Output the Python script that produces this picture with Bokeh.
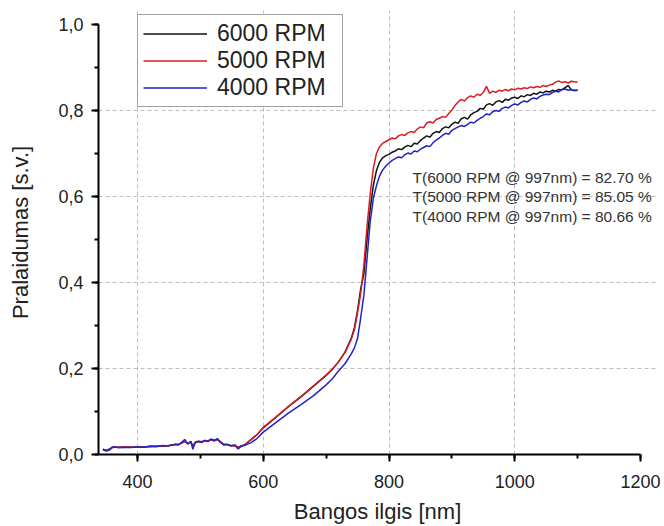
from bokeh.plotting import figure
from bokeh.models import (ColumnDataSource, Range1d, SingleIntervalTicker, FixedTicker,
                          CustomJSTickFormatter, Legend, LegendItem, Label)
from bokeh.embed import file_html
from bokeh.resources import INLINE

# ---------------- data ----------------
series_names = ["6000 RPM", "5000 RPM", "4000 RPM"]

wl_low = [345, 350, 355, 360, 365, 370, 380, 390, 400, 410, 420, 430, 440, 450, 460, 465,
          470, 475, 480, 485, 488, 492, 497, 502, 507, 512, 517, 522, 527, 532, 537, 542,
          548, 555, 560, 565, 570, 575]
wl_mid = [580, 590, 600, 620, 640, 660, 680, 700, 710, 720, 730, 740, 745, 750, 755, 760,
          765, 770, 775, 780, 785, 790, 795, 800]
wl_up = [805, 810, 815, 820, 825, 830, 835, 840, 845, 850,
         855, 860, 865, 870, 875, 880, 885, 890, 895, 900,
         905, 910, 915, 920, 925, 930, 935, 940, 945, 950,
         955, 960, 965, 970, 975, 980, 985, 990, 995, 1000,
         1005, 1010, 1015, 1020, 1025, 1030, 1035, 1040, 1045, 1050,
         1055, 1060, 1065, 1070, 1075, 1080, 1085, 1090, 1095, 1100]

black_low = [.012, .010, .012, .017, .017, .016, .017, .017, .018, .017, .019, .019, .020, .021,
             .023, .023, .027, .031, .026, .029, .018, .028, .030, .029, .032, .031, .035, .032,
             .035, .029, .023, .023, .021, .021, .016, .020, .022, .028]
red_low = [.012, .010, .011, .016, .017, .017, .018, .017, .017, .018, .018, .019, .020, .021,
           .023, .024, .026, .030, .027, .029, .020, .028, .030, .030, .031, .032, .034, .033,
           .035, .030, .024, .023, .021, .020, .017, .020, .022, .028]
blue_low = [.011, .008, .010, .017, .018, .016, .017, .016, .018, .017, .019, .018, .021, .020,
            .024, .022, .028, .035, .024, .031, .012, .029, .031, .028, .033, .030, .036, .032,
            .037, .028, .022, .024, .020, .022, .013, .019, .021, .024]

black_mid = [.034, .046, .062, .086, .111, .134, .159, .184, .198, .216, .238, .270, .295, .335,
             .385, .420, .500, .570, .625, .660, .680, .690, .695, .698]
red_mid = [.034, .046, .063, .087, .112, .135, .160, .185, .199, .216, .237, .268, .290, .330,
           .375, .440, .530, .605, .665, .700, .716, .724, .728, .732]
blue_mid = [.027, .037, .052, .074, .096, .116, .137, .162, .176, .195, .211, .234, .248, .270,
            .318, .370, .455, .540, .595, .625, .648, .662, .671, .678]

black_up = [.703, .706, .711, .709, .715, .719, .716, .724, .722, .730,
            .736, .741, .738, .747, .751, .749, .758, .762, .760, .768,
            .773, .770, .781, .784, .780, .790, .795, .798, .805, .803,
            .813, .816, .812, .820, .823, .819, .826, .824, .829, .831,
            .828, .834, .832, .837, .835, .840, .838, .843, .841, .845,
            .843, .847, .845, .849, .848, .853, .858, .848, .847, .847]
red_up = [.736, .734, .741, .744, .742, .748, .751, .749, .757, .762,
          .760, .771, .774, .771, .779, .782, .786, .784, .793, .801,
          .812, .820, .826, .822, .830, .834, .831, .838, .835, .842,
          .856, .840, .845, .842, .847, .845, .849, .846, .850, .848,
          .852, .850, .853, .851, .855, .853, .856, .854, .858, .856,
          .859, .861, .866, .869, .865, .867, .864, .868, .867, .866]
blue_up = [.684, .688, .692, .690, .697, .701, .699, .706, .704, .710,
           .714, .718, .716, .725, .731, .736, .742, .747, .745, .754,
           .758, .762, .765, .763, .768, .773, .771, .777, .782, .786,
           .792, .790, .797, .800, .798, .805, .808, .806, .812, .815,
           .813, .819, .822, .820, .826, .829, .827, .833, .836, .838,
           .837, .842, .845, .843, .849, .850, .847, .849, .846, .847]

annotations = ["T(6000 RPM @ 997nm) = 82.70 %",
               "T(5000 RPM @ 997nm) = 85.05 %",
               "T(4000 RPM @ 997nm) = 80.66 %"]

x_grid_ticks = [400, 600, 800, 1000]
y_grid_ticks = [0.2, 0.4, 0.6, 0.8]

# ---------------- figure ----------------
FONT = "Liberation Sans"
wavelength = wl_low + wl_mid + wl_up
src = ColumnDataSource(dict(
    x=wavelength,
    black=black_low + black_mid + black_up,
    red=red_low + red_mid + red_up,
    blue=blue_low + blue_mid + blue_up,
))

p = figure(width=664, height=526, output_backend="svg", toolbar_location=None,
           x_range=Range1d(338, 1225.4), y_range=Range1d(0, 1.0326),
           min_border_left=98, min_border_right=8, min_border_top=10, min_border_bottom=72)
p.outline_line_color = None
p.background_fill_color = "white"
p.border_fill_color = "white"

p.xaxis.ticker = SingleIntervalTicker(interval=200, num_minor_ticks=2)
p.yaxis.ticker = SingleIntervalTicker(interval=0.2, num_minor_ticks=2)
p.yaxis.formatter = CustomJSTickFormatter(code="return tick.toFixed(1).replace('.', ',');")
p.xaxis.bounds = (338, 1200)
p.yaxis.bounds = (0, 1.0)

for ax in (p.xaxis[0], p.yaxis[0]):
    ax.axis_line_width = 2
    ax.axis_line_color = "black"
    ax.major_tick_line_width = 2
    ax.minor_tick_line_width = 2
    ax.major_tick_out = 7
    ax.major_tick_in = 0
    ax.minor_tick_out = 4
    ax.minor_tick_in = 0
    ax.major_label_text_font = FONT
    ax.major_label_text_font_size = "18px"
    ax.major_label_text_color = "#222222"
    ax.axis_label_text_font = FONT
    ax.axis_label_text_font_size = "22px"
    ax.axis_label_text_font_style = "normal"
    ax.axis_label_text_color = "#222222"

p.xaxis.axis_label = "Bangos ilgis [nm]"
p.yaxis.axis_label = "Pralaidumas [s.v.]"
p.xaxis.major_label_standoff = 13
p.xaxis.axis_label_standoff = 8
p.yaxis.major_label_standoff = 8
p.yaxis.axis_label_standoff = 22

p.xgrid.ticker = FixedTicker(ticks=x_grid_ticks)
p.ygrid.ticker = FixedTicker(ticks=y_grid_ticks)
for g in (p.xgrid[0], p.ygrid[0]):
    g.grid_line_color = "#bdbdbd"
    g.grid_line_dash = "4 3"
    g.grid_line_width = 1

colors = {"black": "#111111", "red": "#d81e22", "blue": "#2222c8"}
r_black = p.line("x", "black", source=src, line_color=colors["black"], line_width=1.5)
r_red = p.line("x", "red", source=src, line_color=colors["red"], line_width=1.5)
r_blue = p.line("x", "blue", source=src, line_color=colors["blue"], line_width=1.5)

legend = Legend(items=[LegendItem(label=series_names[0], renderers=[r_black]),
                       LegendItem(label=series_names[1], renderers=[r_red]),
                       LegendItem(label=series_names[2], renderers=[r_blue])],
                location=(39, 347), padding=5, spacing=0, margin=0,
                label_height=27, glyph_height=27, glyph_width=64, label_standoff=10,
                label_width=120,
                label_text_font=FONT, label_text_font_size="23px", label_text_color="#222222",
                border_line_color="#444444", border_line_width=1,
                background_fill_color="white", background_fill_alpha=1.0)
p.add_layout(legend)

ann_y = [0.644, 0.600, 0.553]
for txt, yy in zip(annotations, ann_y):
    p.add_layout(Label(x=837.4, y=yy, text=txt, text_font=FONT, text_font_size="15.5px",
                       text_baseline="middle", text_color="#333333"))

open("out.html", "w").write(file_html(p, INLINE))
